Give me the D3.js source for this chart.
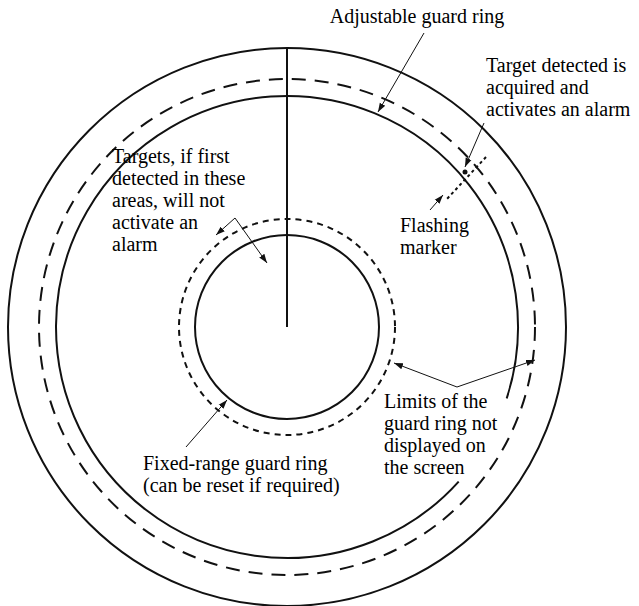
<!DOCTYPE html>
<html>
<head>
<meta charset="utf-8">
<script src="https://cdn.jsdelivr.net/npm/d3@7"></script>
<style>
  body { margin: 0; background: #fff; }
  text { font-family: "Liberation Serif", "DejaVu Serif", serif; font-size: 20px; fill: #000; }
</style>
</head>
<body>
<svg id="chart" width="639" height="606"></svg>
<script>
// rings: radius in pixels-equivalent units, style
const ringNames = ['outer', 'adjDashed', 'adjSolid', 'fixedDashed', 'fixedSolid'];
const ringRadius = [279, 248, 231, 108, 92];
const ringDash = ['', '14,9', '', '6,5', ''];
// gap in the adjustable solid ring (degrees, clockwise from east)
const gapStart = [18];
const gapEnd = [42];

const labels = [
  { lines: ['Adjustable guard ring'], x: 417, y: 23, anchor: 'middle' },
  { lines: ['Target detected is', 'acquired and', 'activates an alarm'], x: 486, y: 72 },
  { lines: ['Flashing', 'marker'], x: 400, y: 232 },
  { lines: ['Targets, if first', 'detected in these', 'areas, will not', 'activate an', 'alarm'], x: 112, y: 163 },
  { lines: ['Fixed-range guard ring', '(can be reset if required)'], x: 143, y: 470 },
  { lines: ['Limits of the', 'guard ring not', 'displayed on', 'the screen'], x: 384, y: 408 }
];

const arrows = [
  [424, 33, 378, 112],
  [484, 123, 465, 167],
  [430, 210, 443, 195],
  [235, 218, 216, 235],
  [235, 218, 267, 263],
  [186, 447, 227, 400],
  [457, 387, 394, 363],
  [457, 387, 535, 360]
];

const cx = 287, cy = 327;
const svg = d3.select('#chart');
const r = d3.scaleLinear().domain([0, 279]).range([0, 279]);

svg.append('defs').append('marker')
  .attr('id', 'arrow')
  .attr('viewBox', '0 0 10 10')
  .attr('refX', 10).attr('refY', 5)
  .attr('markerWidth', 9).attr('markerHeight', 9)
  .attr('markerUnits', 'userSpaceOnUse')
  .attr('orient', 'auto')
  .append('path').attr('d', 'M0,1.5L10,5L0,8.5Z').attr('fill', '#111');

const g = svg.append('g').attr('transform', `translate(${cx},${cy})`);

// rings
ringNames.forEach((name, i) => {
  if (name === 'adjSolid') {
    // arc with gap: d3.arc angles are clockwise from north
    const toArc = deg => (deg + 90) * Math.PI / 180;
    g.append('path')
      .attr('d', d3.arc()({ innerRadius: r(ringRadius[i]), outerRadius: r(ringRadius[i]),
        startAngle: toArc(gapEnd[0]), endAngle: toArc(gapStart[0]) + 2 * Math.PI }))
      .attr('fill', 'none').attr('stroke', '#111').attr('stroke-width', 2);
  } else {
    g.append('circle')
      .attr('r', r(ringRadius[i]))
      .attr('fill', 'none')
      .attr('stroke', '#111')
      .attr('stroke-width', 2)
      .attr('stroke-dasharray', ringDash[i]);
  }
});

// heading line
g.append('line')
  .attr('x1', 0).attr('y1', 0).attr('x2', 0).attr('y2', -r(ringRadius[0]))
  .attr('stroke', '#111').attr('stroke-width', 2);

// flashing marker (dotted radial tick across the guard ring)
svg.append('line')
  .attr('x1', 486).attr('y1', 157).attr('x2', 446).attr('y2', 200)
  .attr('stroke', '#111').attr('stroke-width', 2).attr('stroke-dasharray', '3,3');
svg.append('circle').attr('cx', 465).attr('cy', 172).attr('r', 2.5).attr('fill', '#111');

// arrows
arrows.forEach(a => {
  svg.append('line')
    .attr('x1', a[0]).attr('y1', a[1]).attr('x2', a[2]).attr('y2', a[3])
    .attr('stroke', '#111').attr('stroke-width', 1)
    .attr('marker-end', 'url(#arrow)');
});

// labels
labels.forEach(l => {
  const t = svg.append('text')
    .attr('x', l.x).attr('y', l.y)
    .attr('text-anchor', l.anchor || 'start');
  l.lines.forEach((s, i) => {
    t.append('tspan').attr('x', l.x).attr('dy', i === 0 ? 0 : 22).text(s);
  });
});
</script>
</body>
</html>
